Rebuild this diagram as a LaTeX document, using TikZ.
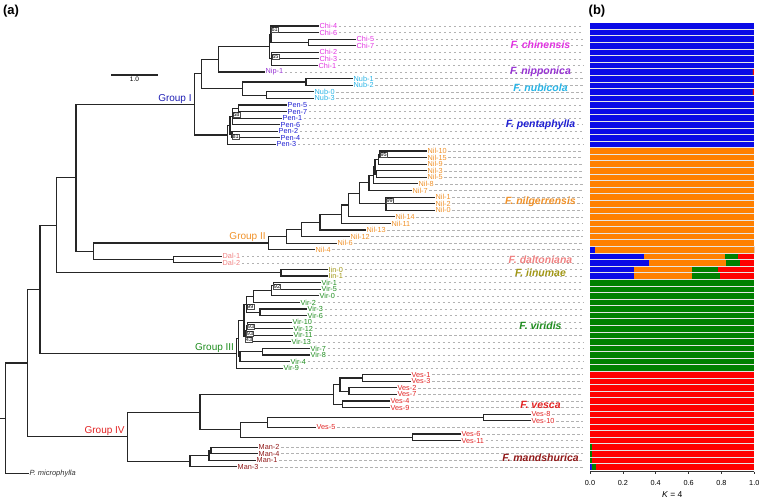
\documentclass[tikz,border=0pt]{standalone}
\usepackage{fontspec}
\setmainfont{Liberation Sans}
\usetikzlibrary{calc}

\definecolor{chi}{RGB}{225,50,225}
\definecolor{nip}{RGB}{150,50,210}
\definecolor{nub}{RGB}{40,180,230}
\definecolor{pen}{RGB}{30,30,210}
\definecolor{nil}{RGB}{240,145,40}
\definecolor{dal}{RGB}{240,130,130}
\definecolor{iin}{RGB}{160,150,20}
\definecolor{vir}{RGB}{30,140,30}
\definecolor{ves}{RGB}{225,35,35}
\definecolor{man}{RGB}{145,25,25}
\definecolor{qblau}{RGB}{10,10,230}
\definecolor{qorange}{RGB}{255,128,0}
\definecolor{qgruen}{RGB}{0,128,0}
\definecolor{qrot}{RGB}{255,0,0}

\tikzset{
  zweig/.style={line width=1.15pt, black!85, line cap=rect},
  blatt/.style={anchor=west, inner sep=1.5pt, font=\fontsize{7.3}{8}\selectfont},
  leiter/.style={gray!60, dash pattern=on 2.5pt off 2.5pt, line width=0.5pt},
  art/.style={font=\fontsize{10.5}{12}\selectfont\bfseries\itshape},
  gruppe/.style={anchor=south east, inner sep=1pt, xshift=-1.5pt, font=\fontsize{10}{12}\selectfont},
  boot/.style={anchor=west, fill=white, draw=black!70, line width=0.3pt, inner sep=0.5pt, font=\fontsize{5.5}{6}\selectfont},
  trenn/.style={white!80!gray, line width=0.8pt},
  panel/.style={font=\fontsize{13}{14}\selectfont\bfseries},
}
% innerer Knoten: Name, x, erstes Kind, letztes Kind
\newcommand\knoten[4]{%
  \path let \p1=($(#3)!.5!(#4)$) in coordinate (#1) at (#2,\y1);
  \draw[zweig] (#3) -| (#1) |- (#4);}

\begin{document}
\begin{tikzpicture}[x=1pt, y=-1pt]
	\def\dy{6.58}
	\def\bx{590}
	\def\bw{164.3}
	\useasboundingbox (0,0) rectangle (760,500);

	% Blaetter
	\coordinate (dEnd) at (583,0);
	\foreach \n/\x/\f [count=\i] in {
		Chi-4/318/chi, Chi-6/318/chi, Chi-5/355/chi, Chi-7/355/chi, Chi-2/318/chi, Chi-3/318/chi, Chi-1/317/chi,
		Nip-1/264/nip, Nub-1/352/nub, Nub-2/352/nub, Nub-0/313/nub, Nub-3/313/nub,
		Pen-5/286/pen, Pen-7/286/pen, Pen-1/281/pen, Pen-6/279/pen, Pen-2/277/pen, Pen-4/279/pen, Pen-3/275/pen,
		Nil-10/426/nil, Nil-15/426/nil, Nil-9/426/nil, Nil-3/426/nil, Nil-5/426/nil, Nil-8/417/nil, Nil-7/411/nil,
		Nil-1/434/nil, Nil-2/434/nil, Nil-0/434/nil, Nil-14/394/nil, Nil-11/390/nil, Nil-13/365/nil,
		Nil-12/349/nil, Nil-6/336/nil, Nil-4/314/nil,
		Dal-1/221/dal, Dal-2/221/dal, Iin-0/327/iin, Iin-1/327/iin,
		Vir-1/320/vir, Vir-5/320/vir, Vir-0/318/vir, Vir-2/299/vir, Vir-3/306/vir, Vir-6/306/vir,
		Vir-10/291/vir, Vir-12/292/vir, Vir-11/292/vir, Vir-13/290/vir, Vir-7/309/vir, Vir-8/309/vir,
		Vir-4/289/vir, Vir-9/282/vir,
		Ves-1/410/ves, Ves-3/410/ves, Ves-2/396/ves, Ves-7/396/ves, Ves-4/389/ves, Ves-9/389/ves,
		Ves-8/530/ves, Ves-10/530/ves, Ves-5/315/ves, Ves-6/460/ves, Ves-11/460/ves,
		Man-2/257/man, Man-4/257/man, Man-1/255/man, Man-3/236/man} {
		\coordinate (\n) at (\x,{26+(\i-1)*\dy});
		\node[blatt, text=\f] (\n-l) at (\n) {\n};
		\draw[leiter] (\n-l.east) -- (\n-l.east -| dEnd);
	}
	\coordinate (Pmic) at (28,{26+68*\dy});
	\node[blatt, font=\fontsize{7.5}{9}\selectfont\itshape, text=black!80] (Pmic-l) at (Pmic) {P. microphylla};

	% Gruppe I
	\knoten{chi57}{308.3}{Chi-5}{Chi-7}
	\knoten{chiA}{271}{Chi-4}{chi57}
	\draw[zweig] (chiA) |- (Chi-6);
	\knoten{chiB}{271.7}{Chi-2}{Chi-1}
	\draw[zweig] (chiB) |- (Chi-3);
	\knoten{chiR}{269.3}{chiA}{chiB}
	\knoten{chinip}{218.3}{chiR}{Nip-1}
	\knoten{nub12}{306}{Nub-1}{Nub-2}
	\knoten{nub03}{266.7}{Nub-0}{Nub-3}
	\knoten{nubR}{242.7}{nub12}{nub03}
	\knoten{g1a}{201.7}{chinip}{nubR}
	\knoten{pen57}{238.3}{Pen-5}{Pen-7}
	\knoten{pC}{232.7}{pen57}{Pen-6}
	\draw[zweig] (pC) |- (Pen-1);
	\knoten{pD}{232}{Pen-2}{Pen-4}
	\knoten{pB}{230}{pC}{pD}
	\knoten{pA}{227.3}{pB}{Pen-3}
	\knoten{g1}{194.3}{g1a}{pA}

	% Gruppe II
	\knoten{a1015}{380}{Nil-10}{Nil-15}
	\knoten{a9}{378.3}{a1015}{Nil-9}
	\knoten{a35}{376.7}{Nil-3}{Nil-5}
	\knoten{a935}{375}{a9}{a35}
	\knoten{a8}{373.3}{a935}{Nil-8}
	\knoten{a7}{369}{a8}{Nil-7}
	\knoten{b0}{386}{Nil-1}{Nil-0}
	\draw[zweig] (b0) |- (Nil-2);
	\knoten{ab}{359.3}{a7}{b0}
	\knoten{d2}{348.3}{ab}{Nil-14}
	\knoten{e2}{341.7}{d2}{Nil-11}
	\knoten{n3}{320}{e2}{Nil-13}
	\knoten{n2}{301.7}{n3}{Nil-12}
	\knoten{n1}{286.7}{n2}{Nil-6}
	\knoten{g2}{268.3}{n1}{Nil-4}
	\knoten{dal}{173.3}{Dal-1}{Dal-2}
	\knoten{iin}{281}{Iin-0}{Iin-1}

	% Gruppe III
	\knoten{v15}{273.3}{Vir-1}{Vir-5}
	\knoten{v150}{271.7}{v15}{Vir-0}
	\knoten{v1502}{253.3}{v150}{Vir-2}
	\knoten{v36}{260}{Vir-3}{Vir-6}
	\knoten{v99}{246.7}{v1502}{v36}
	\knoten{v93a}{247.3}{Vir-10}{Vir-12}
	\knoten{v93b}{246.3}{v93a}{Vir-11}
	\knoten{v43}{245.3}{v93b}{Vir-13}
	\knoten{y3}{244}{v99}{v43}
	\knoten{v78}{262.7}{Vir-7}{Vir-8}
	\knoten{z3}{240}{v78}{Vir-4}
	\knoten{x3}{238.3}{y3}{z3}
	\knoten{g3}{236.7}{x3}{Vir-9}

	% Gruppe IV
	\knoten{v13}{362.7}{Ves-1}{Ves-3}
	\knoten{v27}{349}{Ves-2}{Ves-7}
	\knoten{v1327}{340}{v13}{v27}
	\knoten{v49}{342.3}{Ves-4}{Ves-9}
	\knoten{vesU}{333.3}{v1327}{v49}
	\knoten{v810}{483.3}{Ves-8}{Ves-10}
	\knoten{v8105}{267.3}{v810}{Ves-5}
	\knoten{v611}{412.7}{Ves-6}{Ves-11}
	\knoten{vesL}{240.7}{v8105}{v611}
	\knoten{ves}{200}{vesU}{vesL}
	\knoten{m24}{211}{Man-2}{Man-4}
	\knoten{m241}{209}{m24}{Man-1}
	\knoten{man}{190}{m241}{Man-3}
	\knoten{g4}{127.3}{ves}{man}

	% Rueckgrat
	\knoten{nE}{93.3}{g2}{dal}
	\knoten{nD}{76}{g1}{nE}
	\knoten{nC}{56.7}{nD}{iin}
	\knoten{nB}{40}{nC}{g3}
	\knoten{inn}{27.7}{nB}{g4}
	\knoten{root}{5.7}{inn}{Pmic}
	\coordinate (links) at (0,0);
	\draw[zweig] (root) -- (root -| links);

	% Bootstrap
	\foreach \k/\w/\s in {chiA/61/4.5, chiB/65/2.6, pC/58/2, pD/81/-2, a1015/95/0, b0/99/3,
		v15/92/-1, v99/99/-2, v93a/93/-1, v93b/93/-3, v43/43/-4}
		\node[boot, yshift=\s pt] (bs-\k) at (\k) {\w};

	% Gruppen
	\node[gruppe, text={rgb,255:red,30;green,30;blue,180}] (gl1) at (g1) {Group I};
	\node[gruppe, text=nil] (gl2) at (g2) {Group II};
	\node[gruppe, text=vir] (gl3) at (g3) {Group III};
	\node[gruppe, text=ves] (gl4) at (g4) {Group IV};

	% Massstab
	\coordinate (sbL) at (111.7,75);
	\coordinate (sbR) at (157.3,75);
	\draw[zweig] (sbL) -- (sbR) node[midway, below, inner sep=1.5pt, font=\fontsize{6.5}{7}\selectfont, text=black] (sbT) {1.0};

	% Arten
	\foreach \s/\y/\f [count=\j] in {F. chinensis/45/chi, F. nipponica/71.7/nip, F. nubicola/88/nub,
		F. pentaphylla/125/pen, F. nilgerrensis/201.7/nil, F. daltoniana/260/dal, F. iinumae/273/iin,
		F. viridis/326/vir, F. vesca/405/ves, F. mandshurica/457.3/man}
		\node[art, text=\f] (art\j) at (540.5,\y) {\s};

	% Balken
	\foreach \a/\b/\f in {1/19/qblau, 20/35/qorange, 36/39/qrot, 40/53/qgruen, 54/68/qrot}
		\fill[\f] (\bx,{22.71+(\a-1)*\dy}) rectangle ({\bx+\bw},{22.71+\b*\dy});
	\foreach \i/\p/\q/\r in {8/.99/.99/.99, 11/.99/.99/.99, 35/.03/1/1, 36/.33/.82/.90, 37/.36/.83/.91,
		38/.27/.62/.78, 39/.27/.62/.79, 65/0/0/.012, 66/0/0/.012, 67/0/0/.012, 68/.012/.012/.035} {
		\fill[qblau] (\bx,{22.71+(\i-1)*\dy}) rectangle ({\bx+\p*\bw},{22.71+\i*\dy});
		\fill[qorange] ({\bx+\p*\bw},{22.71+(\i-1)*\dy}) rectangle ({\bx+\q*\bw},{22.71+\i*\dy});
		\fill[qgruen] ({\bx+\q*\bw},{22.71+(\i-1)*\dy}) rectangle ({\bx+\r*\bw},{22.71+\i*\dy});
		\fill[qrot] ({\bx+\r*\bw},{22.71+(\i-1)*\dy}) rectangle ({\bx+\bw},{22.71+\i*\dy});
	}
	\foreach \i in {1,...,67}
		\draw[trenn] (\bx,{22.71+\i*\dy}) -- ({\bx+\bw},{22.71+\i*\dy});

	% Achse
	\draw[black!80, line width=0.5pt] (\bx,471.7) -- ({\bx+\bw},471.7);
	\foreach \v/\t [count=\j] in {0/0.0, 0.2/0.2, 0.4/0.4, 0.6/0.6, 0.8/0.8, 1/1.0} {
		\draw[black!80, line width=0.5pt] ({\bx+\v*\bw},471.7) -- ++(0,2.5);
		\node[font=\fontsize{7.3}{8}\selectfont, inner sep=0pt] (ax\j) at ({\bx+\v*\bw},483) {\t};
	}
	\node[font=\fontsize{8.5}{9}\selectfont, inner sep=0pt] (kk) at (672.2,494.5) {\textit{K} = 4};

	% Beschriftung
	\node[panel] (pa) at (11,11) {(a)};
	\node[panel] (pb) at (597,11) {(b)};
\end{tikzpicture}
\end{document}
